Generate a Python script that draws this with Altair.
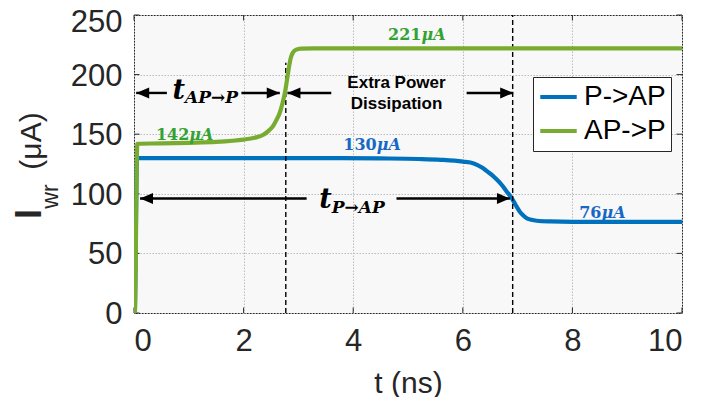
import altair as alt
import pandas as pd

# ---------------- data ----------------
# P->AP (blue) write current, uA vs time, ns
pap_t = [0.0, 0.012, 0.055, 0.5, 1.5, 2.5, 3.5, 4.5, 5.2, 5.6, 6.0, 6.2, 6.35, 6.44,
         6.54, 6.62, 6.72, 6.8, 6.89, 6.96, 7.04, 7.1, 7.16, 7.25, 7.35, 7.6, 8.0, 9.0, 10.0]
pap_i = [0, 0, 130, 130, 130, 130, 130, 129.7, 129.2, 128.5, 127, 125.5, 122, 119,
         115.5, 112, 107, 102, 96.5, 91, 85, 82, 79.7, 78.2, 77.4, 76.8, 76.5, 76.5, 76.5]

# AP->P (green) write current
app_t = [0.0, 0.015, 0.06, 0.5, 1.0, 1.5, 1.8, 2.0, 2.2, 2.36, 2.46, 2.54, 2.6, 2.66,
         2.71, 2.755, 2.79, 2.82, 2.86, 2.9, 2.95, 3.05, 3.3, 5.0, 10.0]
app_i = [0, 0, 142, 142.3, 142.8, 143.5, 144.5, 145.5, 147, 149.5, 153, 157, 162, 168,
         176, 185, 195, 204, 214, 218.5, 220.8, 221.8, 222, 222, 222]

series_names = ["P->AP", "AP->P"]
x_ticks = [0, 2, 4, 6, 8, 10]
y_ticks = [0, 50, 100, 150, 200, 250]

# value labels: number, unit, anchor t, baseline value, series
lab_num = ["221", "142", "130", "76"]
lab_unit = ["\u03bcA", "\u03bcA", "\u03bcA", "\u03bcA"]
lab_t = [5.245, 1.01, 4.43, 8.53]
lab_v = [228.7, 145.3, 136.4, 79.7]
lab_series = ["AP->P", "AP->P", "P->AP", "P->AP"]

# switching-time marker lines
marker_t = [2.77, 6.91]
marker_v0 = [0, 0]
marker_v1 = [210, 250]

# arrow shafts and heads
shaft_t0 = [0.04, 1.96, 2.80, 6.07, 0.11, 4.79]
shaft_t1 = [0.60, 2.66, 3.60, 6.92, 3.15, 6.86]
shaft_v = [184.6, 184.6, 184.6, 184.6, 96.0, 96.0]
head_left_t = [0.04, 2.80, 0.11]
head_left_v = [184.6, 184.6, 96.0]
head_right_t = [2.66, 6.92, 6.86]
head_right_v = [184.6, 184.6, 96.0]

# time labels  t_{AP->P}, t_{P->AP}
tlab_t = [0.93, 3.61]
tlab_main_v = [179.8, 88.1]
tlab_sub_v = [176.4, 84.1]
tlab_sub = ["AP\u2192P", "P\u2192AP"]

extra_text = ["Extra Power", "Dissipation"]
extra_t = [4.79, 4.79]
extra_v = [193.0, 175.6]

# ---------------- styling ----------------
BLUE = "#0072BD"
GREEN = "#77AC30"
LAB_BLUE = "#1668c4"
LAB_GREEN = "#33a233"
AX = "#262626"
SANS = "Liberation Sans"
SERIF = "DejaVu Serif"
W, H = 548, 298

lines = pd.DataFrame(
    {"t": pap_t + app_t, "v": pap_i + app_i,
     "series": ["P->AP"] * len(pap_t) + ["AP->P"] * len(app_t)}
)
labels = pd.DataFrame({"t": lab_t, "v": lab_v, "num": lab_num, "unit": lab_unit, "series": lab_series})
markers = pd.DataFrame({"t": marker_t, "v0": marker_v0, "v1": marker_v1})
shafts = pd.DataFrame({"t0": shaft_t0, "t1": shaft_t1, "v": shaft_v})
heads_l = pd.DataFrame({"t": head_left_t, "v": head_left_v})
heads_r = pd.DataFrame({"t": head_right_t, "v": head_right_v})
tlabs = pd.DataFrame({"t": tlab_t, "vm": tlab_main_v, "vs": tlab_sub_v, "sub": tlab_sub})
extra = pd.DataFrame({"t": extra_t, "v": extra_v, "txt": extra_text})
xt = pd.DataFrame({"t": x_ticks})
yt = pd.DataFrame({"v": y_ticks})
one = pd.DataFrame({"k": [0]})

xs = alt.Scale(domain=[0, 10], nice=False, zero=False)
ys = alt.Scale(domain=[0, 250], nice=False)
cs = alt.Scale(domain=series_names, range=[BLUE, GREEN])

grid_kw = dict(grid=True, gridColor="#bcbcbc", gridDash=[1.5, 1.5], gridWidth=1,
               domain=False, ticks=False, labelFont=SANS, labelFontSize=31,
               labelColor=AX, labelFontWeight="normal")

x_axis = alt.Axis(values=x_ticks, title="t (ns)", labelPadding=13, titlePadding=12,
                  titleFont=SANS, titleFontSize=30, titleFontWeight="normal",
                  titleColor=AX, format="d", **grid_kw)
y_axis = alt.Axis(values=y_ticks, title=None, labelPadding=12, format="d",
                  labelOffset={"condition": {"test": "datum.value == 250", "value": 7}, "value": 1.5},
                  **grid_kw)

legend = alt.Legend(orient="none", legendX=399, legendY=62, title=None,
                    symbolType="stroke", symbolSize=1330, symbolStrokeWidth=4.2,
                    labelFont=SANS, labelFontSize=28, labelColor="black",
                    fillColor="white", strokeColor=AX, padding=5, rowPadding=4,
                    clipHeight=30, labelOffset=5, offset=0)


def X(field):
    return alt.X(field, type="quantitative", scale=xs, axis=x_axis)


def Y(field):
    return alt.Y(field, type="quantitative", scale=ys, axis=y_axis)


line_blue = alt.Chart(lines).transform_filter(alt.datum.series == "P->AP").mark_line(
    strokeWidth=4.2, interpolate="monotone", clip=True
).encode(x=X("t"), y=Y("v"), color=alt.Color("series:N", scale=cs, legend=legend))
line_green = alt.Chart(lines).transform_filter(alt.datum.series == "AP->P").mark_line(
    strokeWidth=4.2, interpolate="monotone", clip=True
).encode(x=X("t"), y=Y("v"), color=alt.Color("series:N", scale=cs, legend=legend))

marker_rules = alt.Chart(markers).mark_rule(color="black", strokeWidth=1.4, strokeDash=[5, 3]).encode(
    x=X("t"), y=Y("v0"), y2="v1")

shaft_rules = alt.Chart(shafts).mark_rule(color="black", strokeWidth=2.4).encode(
    x=X("t0"), x2="t1", y=Y("v"))

left_path = "M0,0L2,-0.85L2,0.85Z"
right_path = "M0,0L-2,-0.85L-2,0.85Z"
heads_left = alt.Chart(heads_l).mark_point(shape=left_path, filled=True, size=169, color="black",
                                           opacity=1, strokeWidth=0).encode(x=X("t"), y=Y("v"))
heads_right = alt.Chart(heads_r).mark_point(shape=right_path, filled=True, size=169, color="black",
                                            opacity=1, strokeWidth=0).encode(x=X("t"), y=Y("v"))

t_main = alt.Chart(tlabs).mark_text(text="t", font=SERIF, fontSize=27, fontWeight="bold",
                                    fontStyle="italic", align="right", baseline="alphabetic",
                                    color="black").encode(x=X("t"), y=Y("vm"))
t_sub = alt.Chart(tlabs).mark_text(font=SERIF, fontSize=17, fontWeight="bold", fontStyle="italic",
                                   align="left", baseline="alphabetic", color="black").encode(
    x=X("t"), y=Y("vs"), text="sub:N")

extra_txt = alt.Chart(extra).mark_text(font=SANS, fontSize=17, fontWeight="bold", align="center",
                                       baseline="middle", color="black").encode(
    x=X("t"), y=Y("v"), text="txt:N")


def value_labels(series, col):
    num = alt.Chart(labels).transform_filter(alt.datum.series == series).mark_text(
        font=SERIF, fontSize=16, fontWeight="bold", align="right", baseline="alphabetic", color=col
    ).encode(x=X("t"), y=Y("v"), text="num:N")
    unit = alt.Chart(labels).transform_filter(alt.datum.series == series).mark_text(
        font=SERIF, fontSize=16, fontWeight="bold", fontStyle="italic", align="left",
        baseline="alphabetic", color=col
    ).encode(x=X("t"), y=Y("v"), text="unit:N")
    return num + unit


# inward tick marks on all four sides of the box
tick_b = alt.Chart(xt).mark_rule(color=AX, strokeWidth=1).encode(x=X("t"), y=alt.value(H), y2=alt.value(H - 5.5))
tick_t = alt.Chart(xt).mark_rule(color=AX, strokeWidth=1).encode(x=X("t"), y=alt.value(0), y2=alt.value(5.5))
tick_l = alt.Chart(yt).mark_rule(color=AX, strokeWidth=1).encode(y=Y("v"), x=alt.value(0), x2=alt.value(5.5))
tick_r = alt.Chart(yt).mark_rule(color=AX, strokeWidth=1).encode(y=Y("v"), x=alt.value(W), x2=alt.value(W - 5.5))

# y-axis title with subscript: I_wr (uA)
yt_I = alt.Chart(one).mark_text(text="I", font=SANS, fontSize=36, fontWeight="bold", angle=270,
                                align="center", baseline="alphabetic", color=AX).encode(
    x=alt.value(-93.5), y=alt.value(199))
yt_wr = alt.Chart(one).mark_text(text="wr", font=SANS, fontSize=23, angle=270, align="center",
                                 baseline="alphabetic", color=AX).encode(
    x=alt.value(-76), y=alt.value(181.5))
yt_unit = alt.Chart(one).mark_text(text="(\u03bcA)", font=SANS, fontSize=30, angle=270, align="center",
                                   baseline="alphabetic", color=AX).encode(
    x=alt.value(-93), y=alt.value(126))

chart = alt.layer(
    line_blue, tick_b, tick_t, tick_l, tick_r, marker_rules, line_green,
    shaft_rules, heads_left, heads_right, t_main, t_sub, extra_txt,
    value_labels("AP->P", LAB_GREEN), value_labels("P->AP", LAB_BLUE),
    yt_I, yt_wr, yt_unit,
).properties(
    width=W, height=H,
    autosize=alt.AutoSizeParams(type="none"),
    padding={"left": 126, "top": 7, "right": 11, "bottom": 84},
    background="white",
).configure_view(
    fill="#f8f8f8", stroke=AX, strokeWidth=1,
).configure_legend(
    strokeWidth=1, cornerRadius=0,
)

chart.save("out.html", embed_options={"renderer": "svg", "actions": False})
